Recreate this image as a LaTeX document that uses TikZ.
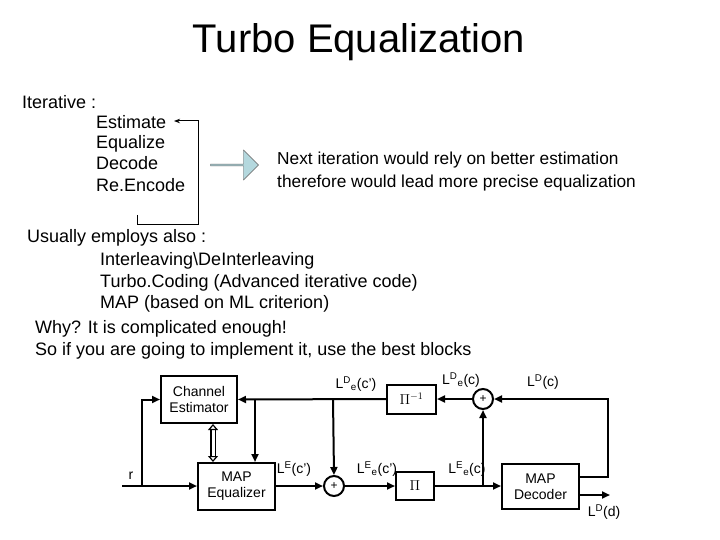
\documentclass[tikz,border=0pt]{standalone}
\usepackage{fontspec}
\setmainfont{Liberation Sans}
\usetikzlibrary{shapes,arrows.meta,positioning}
\definecolor{paleblue}{RGB}{180,216,222}

\tikzset{
  txt/.style={anchor=base west, inner sep=0pt, font=\fontsize{18}{21}\selectfont},
  blk/.style={draw, line width=2pt, inner sep=0pt, align=center, font=\fontsize{14}{16}\selectfont},
  sum/.style={draw, circle, line width=2pt, minimum size=20pt, inner sep=0pt, font=\fontsize{12}{12}\selectfont},
  lbl/.style={inner sep=0pt, font=\fontsize{14}{16}\selectfont},
  wire/.style={line width=2pt, -{Triangle[length=8pt,width=7pt]}},
}

\begin{document}
\begin{tikzpicture}[x=1pt, y=-1pt]
    \useasboundingbox (0,0) rectangle (720,540);

    \node(title)[inner sep=0pt, font=\fontsize{40}{44}\selectfont] at (359,42) {Turbo Equalization};

    \node(iter)[txt] at (22,109) {Iterative :};
    \node(est)[txt] at (96,129) {Estimate};
    \node(equ)[txt] at (96,149) {Equalize};
    \node(dec)[txt] at (96,170) {Decode};
    \node(renc)[txt] at (96,192) {Re.Encode};
    \coordinate(loopA) at (137,215);
    \coordinate(loopB) at (198,121);
    \coordinate(loopC) at (174,121);
    \draw[line width=1pt, -{Stealth[length=6pt]}] (loopA) |- (198,225) -- (loopB) -- (loopC);

    \node(fat)[draw=gray!70!black, fill=paleblue, single arrow, minimum width=30pt,
      single arrow head extend=3pt, minimum height=48pt, inner sep=0pt] at (234,165) {};
    \node(l1n)[txt, font=\fontsize{17.3}{20}\selectfont] at (277,165) {Next iteration would rely on better estimation};
    \node(l2n)[txt, font=\fontsize{17.3}{20}\selectfont] at (277,188) {therefore would lead more precise equalization};

    \node(usu)[txt] at (27,243) {Usually employs also :};
    \node(intl)[txt] at (100,265) {Interleaving\textbackslash DeInterleaving};
    \node(tcod)[txt] at (100,287) {Turbo.Coding (Advanced iterative code)};
    \node(map)[txt] at (100,308) {MAP (based on ML criterion)};
    \node(why)[txt] at (35,333) {Why? It is complicated enough!};
    \node(sof)[txt] at (35,355) {So if you are going to implement it, use the best blocks};

    % block diagram
    \node(CE)[blk, minimum width=76pt, minimum height=47pt] at (199,399.5) {Channel\\Estimator};
    \node(EQ)[blk, minimum width=77pt, minimum height=47pt] at (236.5,486.5) {MAP\\Equalizer};
    \node(S1)[sum] at (334,486) {+};
    \node(PI)[blk, minimum width=38pt, minimum height=28pt] at (415,486) {$\Pi$};
    \node(PIi)[blk, minimum width=49pt, minimum height=29pt] at (411.5,399) {$\Pi^{-1}$};
    \node(S2)[sum] at (483,399) {+};
    \node(DEC)[blk, minimum width=77pt, minimum height=45pt] at (540.5,486.5) {MAP\\Decoder};

    \coordinate(rin) at (122,486);
    \coordinate(rbr) at (142,486);
    \coordinate(tb1) at (255,399);
    \coordinate(tb2) at (333,399);
    \coordinate(db) at (483,486);
    \coordinate(dout) at (610,495);
    \coordinate(fb) at (608,477);

    \draw[line width=2pt] (rin) -- (rbr);
    \draw[wire] (rbr) -- (EQ.west |- rbr);
    \draw[wire] (rbr) |- (CE.west);
    \draw[wire] (PIi.west) -- (CE.east);
    \draw[wire] (tb1) -- (tb1 |- EQ.north);
    \draw[wire] (tb2) -- (S1.north);
    \draw[wire] (EQ.east |- S1) -- (S1.west);
    \draw[wire] (S1.east) -- (PI.west);
    \draw[wire] (PI.east) -- (DEC.west |- PI);
    \draw[wire] (db) -- (S2.south);
    \draw[wire] (DEC.east |- fb) -- (fb) |- (S2.east);
    \draw[wire] (S2.west) -- (PIi.east);
    \draw[wire] (DEC.east |- dout) -- (dout);
    \draw[line width=1.2pt, {Triangle[length=6pt,width=10pt,open]}-{Triangle[length=6pt,width=10pt,open]},
      double, double distance=3pt] (CE.south -| 213,0) -- (EQ.north -| 213,0);

    \node(lr)[lbl] at (131,476) {r};
    \node(l1)[lbl] at (356,384) {L\textsuperscript{D}\textsubscript{e}(c')};
    \node(l2)[lbl] at (294,469) {L\textsuperscript{E}(c')};
    \node(l3)[lbl] at (377,469) {L\textsuperscript{E}\textsubscript{e}(c')};
    \node(l4)[lbl] at (461,380) {L\textsuperscript{D}\textsubscript{e}(c)};
    \node(l5)[lbl] at (467,469) {L\textsuperscript{E}\textsubscript{e}(c)};
    \node(l6)[lbl] at (543,382) {L\textsuperscript{D}(c)};
    \node(l7)[lbl] at (604,512) {L\textsuperscript{D}(d)};
\end{tikzpicture}
\end{document}
